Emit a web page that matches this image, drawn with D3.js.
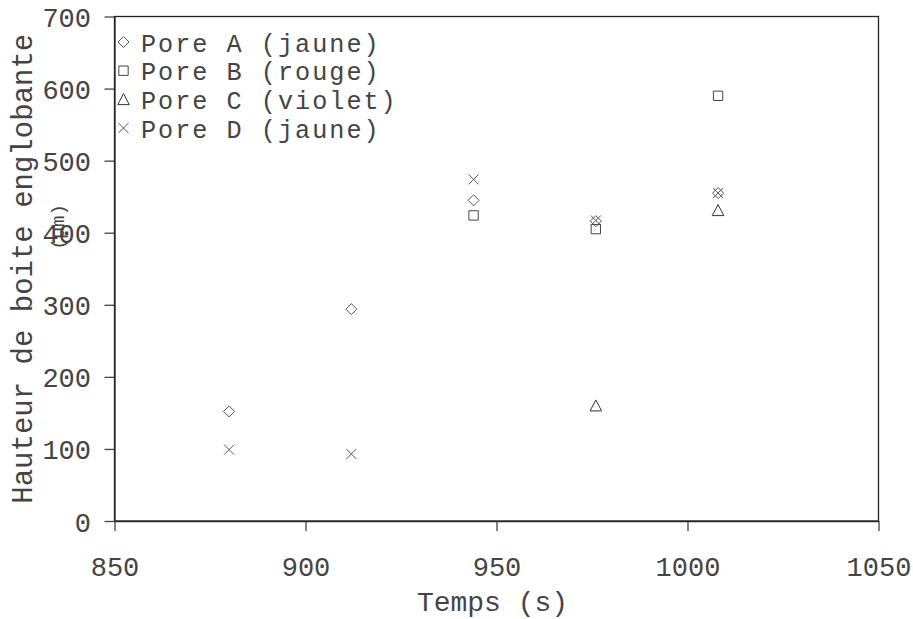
<!DOCTYPE html>
<html>
<head>
<meta charset="utf-8">
<script src="https://cdn.jsdelivr.net/npm/d3@7"></script>
<style>
  html, body { margin: 0; padding: 0; background: #fff; }
  svg { display: block; }
  text { font-family: "Liberation Mono", "DejaVu Sans Mono", monospace; fill: #444; }
</style>
</head>
<body>
<svg id="chart" width="913" height="619"></svg>
<script>
// ---- data ----
const times = [880, 912, 944, 976, 1008];
const poreA = [152, 294, 445, 416, 455];
const poreB = [null, null, 424, 405, 590];
const poreC = [null, null, null, 160, 431];
const poreD = [99, 93, 474, 417, 455];
const seriesNames = ["Pore A (jaune)", "Pore B (rouge)", "Pore C (violet)", "Pore D (jaune)"];
const xTicks = [850, 900, 950, 1000, 1050];
const yTicks = [0, 100, 200, 300, 400, 500, 600, 700];

// ---- layout ----
const mLeft = 114.5, mRight = 878.5, mTop = 16.5, mBottom = 521;
const svg = d3.select("#chart");

const x = d3.scaleLinear().domain([850, 1050]).range([mLeft, mRight]);
const y = d3.scaleLinear().domain([0, 700]).range([mBottom, mTop]);

// custom marker shapes
const shapes = [
  { draw(ctx, r) { ctx.moveTo(0, -r); ctx.lineTo(r, 0); ctx.lineTo(0, r); ctx.lineTo(-r, 0); ctx.closePath(); } },
  { draw(ctx, r) { const s = r * 0.85; ctx.moveTo(-s, -s); ctx.lineTo(s, -s); ctx.lineTo(s, s); ctx.lineTo(-s, s); ctx.closePath(); } },
  { draw(ctx, r) { const w = r * 1.05, h = r * 0.95; ctx.moveTo(0, -h - 0.5); ctx.lineTo(w, h); ctx.lineTo(-w, h); ctx.closePath(); } },
  { draw(ctx, r) { const s = r * 0.9; ctx.moveTo(-s, -s); ctx.lineTo(s, s); ctx.moveTo(s, -s); ctx.lineTo(-s, s); } }
];
const strokes = ["#555", "#444", "#333", "#555"];
const symbolPath = (i) => d3.symbol().type(shapes[i]).size(5.5)();

// ---- axes ----
const fs = 27;
const yAxis = d3.axisLeft(y).tickValues(yTicks).tickSize(10).tickSizeOuter(0).tickPadding(13.5);
const gy = svg.append("g").attr("transform", `translate(${mLeft},0)`).call(yAxis);
gy.selectAll("text").attr("dy", null).attr("y", 10).style("font-size", fs + "px")
  .style("font-family", "'Liberation Mono', monospace").attr("fill", "#444");

const xAxis = d3.axisBottom(x).tickValues(xTicks).tickSize(10).tickSizeOuter(0).tickFormat(d3.format("d"));
const gx = svg.append("g").attr("transform", `translate(0,${mBottom})`).call(xAxis);
gx.selectAll("text").attr("dy", null).attr("y", 55).style("font-size", fs + "px")
  .style("font-family", "'Liberation Mono', monospace").attr("fill", "#444");

[gx, gy].forEach(g => {
  g.selectAll("path.domain").attr("stroke", "#333").attr("stroke-width", 1.3);
  g.selectAll(".tick line").attr("stroke", "#444").attr("stroke-width", 1.3);
});

// frame
svg.append("rect").attr("x", mLeft).attr("y", mTop).attr("width", mRight - mLeft).attr("height", mBottom - mTop)
  .attr("fill", "none").attr("stroke", "#222").attr("stroke-width", 1.3);

// ---- points ----
const allSeries = [poreA, poreB, poreC, poreD];
allSeries.forEach((vals, i) => {
  const pts = times.map((t, j) => ({ t, v: vals[j] })).filter(d => d.v != null);
  svg.append("g").selectAll("path").data(pts).join("path")
    .attr("d", symbolPath(i))
    .attr("transform", d => `translate(${x(d.t)},${y(d.v)})`)
    .attr("fill", "none").attr("stroke", strokes[i]).attr("stroke-width", 1);
});

// ---- legend ----
const lg = svg.append("g");
seriesNames.forEach((name, i) => {
  const base = 51.5 + i * 28.7;
  lg.append("path").attr("d", symbolPath(i))
    .attr("transform", `translate(123.5,${base - 9.5})`)
    .attr("fill", "none").attr("stroke", strokes[i]).attr("stroke-width", 1);
  lg.append("text").attr("x", 141).attr("y", base)
    .style("font-size", "25.2px").style("letter-spacing", "2px").text(name);
});

// ---- axis titles ----
svg.append("text").attr("x", (mLeft + mRight) / 2 - 4).attr("y", 611)
  .attr("text-anchor", "middle").style("font-size", "28px").text("Temps (s)");

svg.append("text").attr("transform", `translate(32,${(mTop + mBottom) / 2}) rotate(-90)`)
  .attr("text-anchor", "middle").style("font-size", "29px").text("Hauteur de boite englobante");
svg.append("text").attr("transform", `translate(64,227) rotate(-90)`)
  .attr("text-anchor", "middle").style("font-size", "19px").text("(µm)");
</script>
</body>
</html>
